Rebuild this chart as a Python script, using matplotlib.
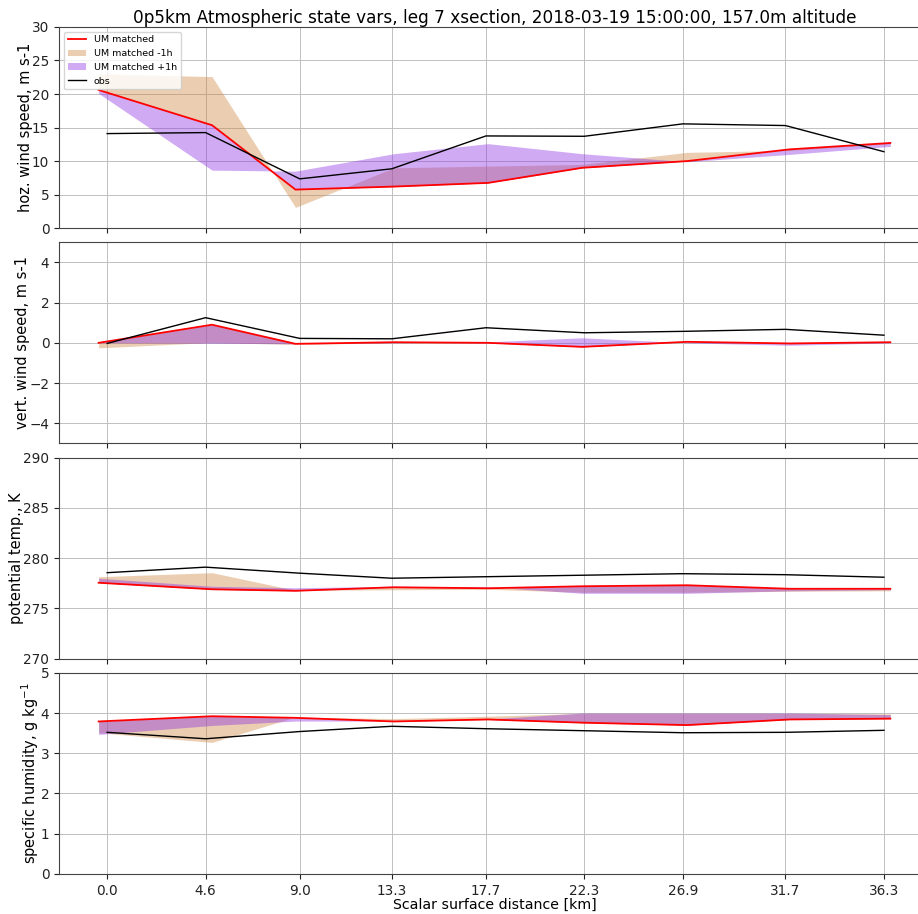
import matplotlib
matplotlib.use("Agg")
import matplotlib.pyplot as plt
import numpy as np

# ── data ─────────────────────────────────────────────────────────────────────

OBS_DIST = [0.0, 4.6, 9.0, 13.3, 17.7, 22.3, 26.9, 31.7, 36.3]
UM_DIST = [-0.4, 4.9, 8.8, 13.4, 17.8, 22.2, 27.1, 31.9, 36.6]

TITLE = "0p5km Atmospheric state vars, leg 7 xsection, 2018-03-19 15:00:00, 157.0m altitude"

# horizontal wind speed
hoz_obs = [14.1, 14.25, 7.35, 8.85, 13.75, 13.7, 15.55, 15.3, 11.4]
hoz_um = [20.6, 15.35, 5.75, 6.2, 6.75, 9.0, 10.0, 11.75, 12.7]
hoz_m1 = [23.0, 22.6, 3.1, 9.0, 9.25, 9.5, 11.3, 11.6, 12.6]
hoz_p1 = [20.1, 8.65, 8.5, 11.1, 12.6, 11.1, 9.9, 11.0, 12.2]

# vertical wind speed
vert_obs = [-0.03, 1.25, 0.22, 0.2, 0.75, 0.5, 0.57, 0.67, 0.38]
vert_um = [0.0, 0.9, -0.05, 0.03, 0.0, -0.2, 0.05, -0.03, 0.03]
vert_m1 = [-0.25, 0.02, -0.08, 0.0, 0.0, -0.15, 0.08, -0.05, 0.02]
vert_p1 = [0.0, -0.02, -0.05, 0.0, 0.05, 0.25, 0.0, -0.12, 0.0]

# potential temperature
theta_obs = [278.55, 279.1, 278.5, 278.0, 278.15, 278.3, 278.45, 278.35, 278.1]
theta_um = [277.55, 276.9, 276.75, 277.1, 277.0, 277.2, 277.3, 276.95, 276.95]
theta_m1 = [278.15, 278.55, 276.8, 276.85, 276.9, 276.6, 276.6, 276.7, 276.75]
theta_p1 = [278.0, 277.2, 277.05, 277.2, 277.15, 276.5, 276.5, 276.75, 276.85]

# specific humidity
q_obs = [3.52, 3.36, 3.54, 3.67, 3.61, 3.56, 3.51, 3.52, 3.57]
q_um = [3.79, 3.92, 3.88, 3.79, 3.84, 3.76, 3.70, 3.84, 3.86]
q_m1 = [3.51, 3.27, 3.9, 3.86, 3.92, 3.99, 3.99, 3.99, 3.98]
q_p1 = [3.47, 3.69, 3.8, 3.8, 3.85, 4.0, 4.0, 4.0, 3.96]

hoz_ticks = [0, 5, 10, 15, 20, 25, 30]
vert_ticks = [-4, -2, 0, 2, 4]
theta_ticks = [270, 275, 280, 285, 290]
q_ticks = [0, 1, 2, 3, 4, 5]

PANELS = [
    ("hoz. wind speed, m s-1", (0, 30), hoz_ticks, hoz_obs, hoz_um, hoz_m1, hoz_p1),
    ("vert. wind speed, m s-1", (-5, 5), vert_ticks, vert_obs, vert_um, vert_m1, vert_p1),
    ("potential temp., K", (270, 290), theta_ticks, theta_obs, theta_um, theta_m1, theta_p1),
    ("specific humidity, g kg$^{-1}$", (0, 5), q_ticks, q_obs, q_um, q_m1, q_p1),
]

# ── plot ─────────────────────────────────────────────────────────────────────

plt.rcParams["font.size"] = 9.8

fig, axes = plt.subplots(4, 1, figsize=(9.18, 9.14), dpi=100, sharex=True)
fig.subplots_adjust(left=0.0643, right=1.013, top=0.9705, bottom=0.0438,
                    hspace=0.07)

for i, (label, ylim, ticks, obs, um, m1, p1) in enumerate(PANELS):
    ax = axes[i]
    ax.plot(UM_DIST, um, color="red", linewidth=1.3, label="UM matched", zorder=4)
    ax.fill_between(UM_DIST, um, m1, color="peru", alpha=0.4, linewidth=0,
                    label="UM matched -1h")
    ax.fill_between(UM_DIST, um, p1, color="blueviolet", alpha=0.4, linewidth=0,
                    label="UM matched +1h")
    ax.plot(OBS_DIST, obs, color="k", linewidth=1.0, label="obs", zorder=5)
    ax.set_ylim(*ylim)
    ax.set_yticks(ticks)
    ax.set_ylabel(label, fontsize=10.5, labelpad=-0.5)
    ax.grid(True, color="#c0c0c0", linewidth=0.7)
    ax.set_axisbelow(True)
    for side in ("left", "bottom", "top", "right"):
        ax.spines[side].set_color("#444444")
    ax.tick_params(length=3.5, colors="#222222")

axes[0].set_title(TITLE, fontsize=12.2, pad=3)
axes[0].legend(loc="upper left", fontsize=6.8, framealpha=0.8)

axes[-1].set_xticks(OBS_DIST)
axes[-1].set_xticklabels([f"{d:.1f}" for d in OBS_DIST])
axes[-1].set_xlabel("Scalar surface distance [km]", fontsize=10.2, labelpad=0)

fig.savefig("out.png", dpi=100)
